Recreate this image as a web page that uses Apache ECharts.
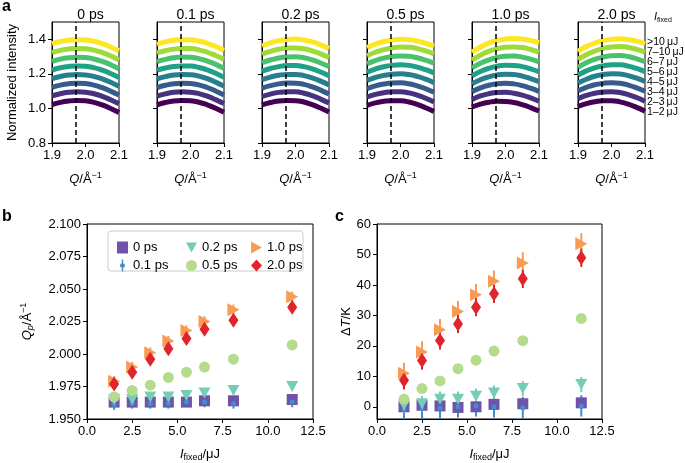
<!DOCTYPE html>
<html>
<head>
<meta charset="utf-8">
<script src="https://cdn.jsdelivr.net/npm/echarts@6/dist/echarts.min.js"></script>
<style>
html, body { margin: 0; padding: 0; background: #fff; }
#main { width: 685px; height: 463px; }
</style>
</head>
<body>
<div id="main"></div>
<script>
// ---- panel a: scattering curves, one block per delay, 8 fluence bins each (offset stacked as in the figure)
var qGrid = [1.9, 1.925, 1.95, 1.975, 2.0, 2.025, 2.05, 2.075, 2.1];
var delays = ['0 ps', '0.1 ps', '0.2 ps', '0.5 ps', '1.0 ps', '2.0 ps'];
var fluenceLabels = ['1–2\u2009μJ', '2–3\u2009μJ', '3–4\u2009μJ', '4–5\u2009μJ', '5–6\u2009μJ', '6–7\u2009μJ', '7–10\u2009μJ', '>10\u2009μJ'];
var peakQ = 1.965;

var spec0ps = [
    [1.022, 1.035, 1.043, 1.046, 1.044, 1.035, 1.020, 1.000, 0.977],
    [1.072, 1.085, 1.093, 1.096, 1.094, 1.085, 1.070, 1.050, 1.027],
    [1.122, 1.135, 1.143, 1.146, 1.144, 1.135, 1.120, 1.100, 1.077],
    [1.172, 1.185, 1.193, 1.196, 1.194, 1.185, 1.171, 1.151, 1.128],
    [1.222, 1.235, 1.243, 1.246, 1.244, 1.236, 1.221, 1.202, 1.179],
    [1.272, 1.285, 1.293, 1.296, 1.294, 1.286, 1.272, 1.253, 1.230],
    [1.323, 1.336, 1.344, 1.347, 1.345, 1.337, 1.323, 1.304, 1.281],
    [1.374, 1.387, 1.395, 1.398, 1.396, 1.389, 1.375, 1.355, 1.333]
];
var spec01ps = [
    [1.021, 1.034, 1.043, 1.046, 1.044, 1.036, 1.021, 1.001, 0.978],
    [1.071, 1.084, 1.093, 1.096, 1.094, 1.086, 1.071, 1.051, 1.028],
    [1.121, 1.134, 1.143, 1.146, 1.144, 1.136, 1.121, 1.101, 1.078],
    [1.171, 1.184, 1.193, 1.196, 1.195, 1.187, 1.172, 1.152, 1.129],
    [1.221, 1.234, 1.243, 1.246, 1.245, 1.237, 1.223, 1.203, 1.180],
    [1.271, 1.284, 1.293, 1.297, 1.296, 1.288, 1.274, 1.255, 1.232],
    [1.321, 1.334, 1.343, 1.347, 1.346, 1.339, 1.325, 1.306, 1.284],
    [1.371, 1.385, 1.394, 1.398, 1.397, 1.390, 1.377, 1.358, 1.336]
];
var spec02ps = [
    [1.020, 1.034, 1.043, 1.046, 1.045, 1.037, 1.022, 1.002, 0.979],
    [1.069, 1.083, 1.093, 1.097, 1.096, 1.088, 1.074, 1.054, 1.031],
    [1.118, 1.132, 1.142, 1.147, 1.146, 1.139, 1.125, 1.106, 1.083],
    [1.167, 1.181, 1.192, 1.197, 1.197, 1.190, 1.177, 1.158, 1.136],
    [1.216, 1.231, 1.242, 1.248, 1.248, 1.242, 1.229, 1.211, 1.189],
    [1.265, 1.280, 1.292, 1.298, 1.299, 1.293, 1.281, 1.263, 1.242],
    [1.314, 1.330, 1.342, 1.349, 1.350, 1.345, 1.333, 1.316, 1.295],
    [1.362, 1.379, 1.392, 1.399, 1.401, 1.396, 1.385, 1.368, 1.347]
];
var spec05ps = [
    [1.018, 1.032, 1.041, 1.045, 1.044, 1.037, 1.023, 1.004, 0.982],
    [1.066, 1.081, 1.091, 1.096, 1.096, 1.090, 1.077, 1.059, 1.037],
    [1.114, 1.130, 1.141, 1.147, 1.148, 1.143, 1.131, 1.114, 1.093],
    [1.162, 1.179, 1.191, 1.198, 1.200, 1.196, 1.185, 1.169, 1.149],
    [1.210, 1.228, 1.241, 1.249, 1.252, 1.249, 1.239, 1.224, 1.205],
    [1.258, 1.277, 1.291, 1.300, 1.304, 1.302, 1.293, 1.279, 1.261],
    [1.305, 1.325, 1.340, 1.350, 1.355, 1.354, 1.346, 1.333, 1.316],
    [1.352, 1.372, 1.387, 1.396, 1.400, 1.398, 1.390, 1.377, 1.360]
];
var spec10ps = [
    [1.008, 1.025, 1.036, 1.041, 1.040, 1.034, 1.022, 1.005, 0.985],
    [1.052, 1.072, 1.085, 1.092, 1.093, 1.088, 1.077, 1.061, 1.041],
    [1.098, 1.119, 1.134, 1.143, 1.146, 1.142, 1.132, 1.117, 1.098],
    [1.143, 1.166, 1.183, 1.194, 1.198, 1.196, 1.187, 1.173, 1.155],
    [1.189, 1.214, 1.232, 1.244, 1.250, 1.249, 1.242, 1.229, 1.212],
    [1.235, 1.261, 1.281, 1.295, 1.302, 1.303, 1.297, 1.285, 1.269],
    [1.280, 1.308, 1.330, 1.345, 1.354, 1.356, 1.352, 1.341, 1.326],
    [1.325, 1.355, 1.378, 1.393, 1.402, 1.405, 1.402, 1.393, 1.380]
];
var spec20ps = [
    [1.012, 1.028, 1.039, 1.045, 1.045, 1.038, 1.025, 1.006, 0.984],
    [1.057, 1.075, 1.088, 1.095, 1.097, 1.092, 1.080, 1.063, 1.042],
    [1.102, 1.122, 1.137, 1.145, 1.149, 1.146, 1.135, 1.119, 1.099],
    [1.147, 1.169, 1.186, 1.196, 1.201, 1.199, 1.190, 1.175, 1.156],
    [1.193, 1.217, 1.235, 1.246, 1.253, 1.252, 1.245, 1.231, 1.213],
    [1.238, 1.264, 1.284, 1.297, 1.305, 1.306, 1.300, 1.287, 1.270],
    [1.284, 1.311, 1.332, 1.347, 1.356, 1.358, 1.353, 1.342, 1.326],
    [1.330, 1.358, 1.378, 1.392, 1.400, 1.403, 1.399, 1.389, 1.375]
];
var spectra = [spec0ps, spec01ps, spec02ps, spec05ps, spec10ps, spec20ps];

// ---- panels b and c: peak position and temperature rise vs fluence
var fluence = [1.5, 2.5, 3.5, 4.5, 5.5, 6.5, 8.1, 11.35];
var qpValues = [
    [1.963, 1.963, 1.963, 1.963, 1.963, 1.964, 1.964, 1.965],
    [1.961, 1.962, 1.962, 1.962, 1.963, 1.963, 1.962, 1.963],
    [1.965, 1.965, 1.967, 1.967, 1.968, 1.970, 1.972, 1.975],
    [1.967, 1.972, 1.976, 1.982, 1.986, 1.990, 1.996, 2.007],
    [1.979, 1.990, 2.001, 2.010, 2.018, 2.025, 2.034, 2.044],
    [1.977, 1.986, 1.996, 2.004, 2.012, 2.019, 2.026, 2.036]
];
var qpErrors = [
    [0.002, 0.002, 0.002, 0.002, 0.002, 0.002, 0.002, 0.002],
    [0.004, 0.004, 0.004, 0.004, 0.003, 0.004, 0.004, 0.004],
    [0.003, 0.003, 0.003, 0.003, 0.003, 0.003, 0.003, 0.003],
    [0.002, 0.002, 0.002, 0.002, 0.002, 0.002, 0.002, 0.002],
    [0.004, 0.004, 0.004, 0.004, 0.004, 0.004, 0.004, 0.004],
    [0.003, 0.003, 0.003, 0.003, 0.003, 0.003, 0.003, 0.003]
];
var dtValues = [
    [0.0, 0.5, 0.3, -0.2, 0.0, 0.8, 1.0, 1.3],
    [-1.0, -0.5, -0.5, 0.0, 0.3, 0.0, -0.3, 0.3],
    [0.5, 1.0, 2.5, 2.5, 3.5, 4.5, 6.0, 7.3],
    [2.5, 6.0, 8.5, 12.5, 15.3, 18.3, 21.7, 29.0],
    [11.0, 18.0, 25.3, 31.3, 36.8, 41.2, 47.2, 53.5],
    [8.7, 15.2, 21.8, 27.2, 32.7, 37.1, 42.0, 48.9]
];
var dtErrors = [
    [2.0, 2.0, 2.0, 2.0, 2.0, 2.0, 2.0, 2.0],
    [4.0, 4.0, 4.0, 3.5, 3.5, 3.5, 3.5, 3.5],
    [2.5, 2.5, 2.5, 2.5, 2.5, 2.5, 2.5, 2.5],
    [1.5, 1.5, 1.5, 1.5, 1.5, 1.5, 1.5, 1.5],
    [3.5, 3.5, 3.5, 3.5, 3.5, 3.5, 3.5, 3.5],
    [3.0, 3.0, 3.0, 3.0, 3.0, 3.0, 3.0, 3.0]
];

var FONT = 'Liberation Sans';
var viridis = ['#440154', '#46327e', '#365c8d', '#277f8e', '#1fa187', '#4ac16d', '#a0da39', '#fde725'];
var markerColors = ['#7052a8', '#3f8fd0', '#75cdb8', '#b5dc8c', '#f99a55', '#e0242b'];
var triDown = 'path://M0,0 L10,0 L5,9 Z';
var triRight = 'path://M0,0 L9,5 L0,10 Z';
var dotBar = 'path://M4.3,0 L5.7,0 L5.7,12 L4.3,12 Z M5,3.4 L6.8,4.2 L7.6,6 L6.8,7.8 L5,8.6 L3.2,7.8 L2.4,6 L3.2,4.2 Z';
var markerShapes = ['rect', 'circle', triDown, 'circle', triRight, 'diamond'];
var legendIcons = ['rect', dotBar, triDown, 'circle', triRight, 'diamond'];
var markerSizes = [11, 5, [12, 11], 11, [12, 13], [10, 15]];
var panelLeft = [52, 157, 262, 367, 472, 578];

var richName = {
    i: { fontStyle: 'italic', fontFamily: FONT, fontSize: 13, color: '#000' },
    n: { fontFamily: FONT, fontSize: 13, color: '#000' },
    sup: { fontFamily: FONT, fontSize: 9, color: '#000', padding: [0, 0, 7, 0] },
    sub: { fontFamily: FONT, fontSize: 9, color: '#000', padding: [7, 0, 0, 0] },
    sub2: { fontStyle: 'italic', fontFamily: FONT, fontSize: 9, color: '#000', padding: [7, 0, 0, 0] }
};

function baseAxis(extra) {
    var a = {
        axisLine: { show: true, onZero: false, lineStyle: { color: '#000', width: 1 } },
        axisTick: { show: true, length: 4, lineStyle: { color: '#000', width: 1 } },
        axisLabel: { color: '#000', fontFamily: FONT, fontSize: 13, margin: 6 },
        splitLine: { show: false },
        nameTextStyle: { fontFamily: FONT, fontSize: 13, color: '#000', rich: richName }
    };
    return Object.assign(a, extra);
}

var grids = [], xAxes = [], yAxes = [], series = [], titles = [], graphics = [];

// panel a
spectra.forEach(function (block, p) {
    grids.push({ left: panelLeft[p], top: 22, width: 67, height: 121, show: true, borderColor: '#000', borderWidth: 1 });
    var xa = baseAxis({
        type: 'value', gridIndex: p, min: 1.9, max: 2.1,
        name: '{i|Q}{n|/Å}{sup|−1}', nameLocation: 'middle', nameGap: 28
    });
    xa.axisTick.customValues = [1.9, 2.0, 2.1];
    xa.axisLabel.customValues = [1.9, 2.0, 2.1];
    xa.axisLabel.formatter = function (v) { return v.toFixed(1); };
    xAxes.push(xa);
    var ya = baseAxis({ type: 'value', gridIndex: p, min: 0.8, max: 1.5 });
    ya.axisTick.customValues = [0.8, 1.0, 1.2, 1.4];
    ya.axisLabel.customValues = [0.8, 1.0, 1.2, 1.4];
    ya.axisLabel.show = p === 0;
    ya.axisLabel.formatter = function (v) { return v.toFixed(1); };
    if (p === 0) {
        ya.name = 'Normalized intensity';
        ya.nameLocation = 'middle';
        ya.nameGap = 33;
    }
    yAxes.push(ya);
    titles.push({
        text: delays[p], left: panelLeft[p] + 33.5, top: 3, textAlign: 'center',
        textStyle: { fontFamily: FONT, fontSize: 14, fontWeight: 'normal', color: '#000' }
    });
    block.forEach(function (curve, i) {
        var s = {
            type: 'line', xAxisIndex: p, yAxisIndex: p, silent: true,
            data: qGrid.map(function (q, k) { return [q, curve[k]]; }),
            smooth: true, showSymbol: false,
            lineStyle: { color: viridis[i], width: 5 }
        };
        if (i === block.length - 1) {
            s.markLine = {
                silent: true, symbol: 'none', label: { show: false }, z: 10,
                lineStyle: { color: '#000', type: [5, 3], width: 1.5 },
                data: [{ xAxis: peakQ }]
            };
        }
        series.push(s);
    });
});

// panels b and c
var bcDefs = [
    { left: 87, width: 226, min: 1.95, max: 2.1, ticks: [1.95, 1.975, 2.0, 2.025, 2.05, 2.075, 2.1], digits: 3,
      name: '{i|Q}{sub2|p}{n|/Å}{sup|−1}', gap: 52, values: qpValues, errors: qpErrors },
    { left: 377, width: 225, min: -4, max: 60, ticks: [0, 10, 20, 30, 40, 50, 60], digits: 0,
      name: '{n|Δ}{i|T}{n|/K}', gap: 24, values: dtValues, errors: dtErrors }
];
var xTicks = [0, 2.5, 5, 7.5, 10, 12.5];

bcDefs.forEach(function (d, j) {
    var gi = 6 + j;
    grids.push({ left: d.left, top: 224, width: d.width, height: 195, show: true, borderColor: '#000', borderWidth: 1 });
    var xa = baseAxis({
        type: 'value', gridIndex: gi, min: 0, max: 12.5,
        name: '{i|I}{sub|fixed}{n|/μJ}', nameLocation: 'middle', nameGap: 27
    });
    xa.axisTick.customValues = xTicks;
    xa.axisLabel.customValues = xTicks;
    xa.axisLabel.formatter = function (v) { return v.toFixed(1); };
    xAxes.push(xa);
    var ya = baseAxis({
        type: 'value', gridIndex: gi, min: d.min, max: d.max,
        name: d.name, nameLocation: 'middle', nameGap: d.gap
    });
    ya.axisTick.customValues = d.ticks;
    ya.axisLabel.customValues = d.ticks;
    ya.axisLabel.formatter = function (v) { return v.toFixed(d.digits); };
    yAxes.push(ya);

    delays.forEach(function (name, k) {
        var vals = d.values[k], errs = d.errors[k], color = markerColors[k];
        series.push({
            type: 'custom', name: name + ' err', xAxisIndex: gi, yAxisIndex: gi, silent: true, clip: true,
            data: fluence.map(function (x, m) { return [x, vals[m] - errs[m], vals[m] + errs[m]]; }),
            encode: { x: 0, y: [1, 2] },
            renderItem: function (params, api) {
                var lo = api.coord([api.value(0), api.value(1)]);
                var hi = api.coord([api.value(0), api.value(2)]);
                return {
                    type: 'line',
                    shape: { x1: lo[0], y1: lo[1], x2: hi[0], y2: hi[1] },
                    style: { stroke: color, lineWidth: 2 }
                };
            }
        });
        series.push({
            type: 'scatter', name: name, xAxisIndex: gi, yAxisIndex: gi, silent: true,
            data: fluence.map(function (x, m) { return [x, vals[m]]; }),
            symbol: markerShapes[k], symbolSize: markerSizes[k],
            itemStyle: { color: color, opacity: 1 }
        });
    });
});

// labels next to panel a
graphics.push({
    type: 'text', x: 654, y: 17, z: 10,
    style: { text: '{i|I}{s|fixed}', rich: {
        i: { fontStyle: 'italic', fontFamily: FONT, fontSize: 11, fill: '#000' },
        s: { fontFamily: FONT, fontSize: 7, fill: '#000', padding: [6, 0, 0, 0] }
    }, verticalAlign: 'middle' }
});
fluenceLabels.slice().reverse().forEach(function (lab, i) {
    graphics.push({
        type: 'text', x: 647, y: 42 + i * 10, z: 10,
        style: { text: lab, fontFamily: FONT, fontSize: 10.5, fill: '#000', verticalAlign: 'middle' }
    });
});
[['a', 2, 7], ['b', 2, 217], ['c', 335, 217]].forEach(function (t) {
    graphics.push({
        type: 'text', x: t[1], y: t[2], z: 10,
        style: { text: t[0], fontFamily: FONT, fontSize: 16, fontWeight: 'bold', fill: '#000', verticalAlign: 'middle' }
    });
});
graphics.push({
    type: 'rect', z: 1, shape: { x: 108, y: 231, width: 195, height: 40, r: 3 },
    style: { fill: '#fff', stroke: '#cccccc', lineWidth: 1 }
});

var legendText = { fontFamily: FONT, fontSize: 13, color: '#000' };
function legendCol(idx, left) {
    return {
        data: idx.map(function (k) { return { name: delays[k], icon: legendIcons[k] }; }),
        orient: 'vertical', left: left, top: 236, itemWidth: 11, itemHeight: 12,
        itemGap: 5, textStyle: legendText, selectedMode: false, z: 5
    };
}

var option = {
    animation: false,
    backgroundColor: '#fff',
    title: titles,
    grid: grids,
    xAxis: xAxes,
    yAxis: yAxes,
    legend: [
        legendCol([0, 1], 112),
        legendCol([2, 3], 181),
        legendCol([4, 5], 246)
    ],
    graphic: graphics,
    series: series
};

var chart = echarts.init(document.getElementById('main'));
chart.setOption(option);
</script>
</body>
</html>
